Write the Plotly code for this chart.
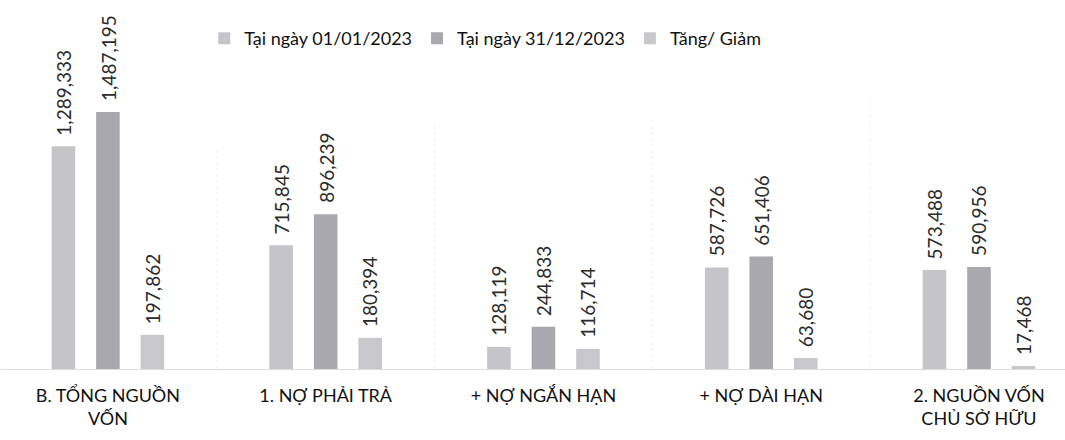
import plotly.graph_objects as go

categories = ["B. TỔNG NGUỒN<br>VỐN", "1. NỢ PHẢI TRẢ", "+ NỢ NGẮN HẠN", "+ NỢ DÀI HẠN", "2. NGUỒN VỐN<br>CHỦ SỞ HỮU"]
series_names = ["Tại ngày 01/01/2023", "Tại ngày 31/12/2023", "Tăng/ Giảm"]
v_start = [1289333, 715845, 128119, 587726, 573488]
v_end = [1487195, 896239, 244833, 651406, 590956]
v_change = [197862, 180394, 116714, 63680, 17468]
colors = ["#c4c4c9", "#a8a8ae", "#c8c8cc"]

SLOT_PX = 44.5          # distance between bar centres inside a group
shifts = [-SLOT_PX, 0, SLOT_PX]

fig = go.Figure()
for name, vals, col in zip(series_names, [v_start, v_end, v_change], colors):
    fig.add_trace(go.Bar(
        x=categories, y=vals, name=name,
        marker=dict(color=col, line=dict(width=0)),
        cliponaxis=False, hoverinfo="skip",
    ))

# value labels (rotated, above bars)
for vals, dx in zip([v_start, v_end, v_change], shifts):
    for c, v in zip(categories, vals):
        fig.add_annotation(
            x=c, y=v, xref="x", yref="y", text=f"{v:,}", showarrow=False,
            textangle=-90, xanchor="center", yanchor="bottom",
            xshift=dx, yshift=9,
            font=dict(family="Lato, Open Sans, sans-serif", size=19, color="#2b2b2b"),
        )

fig.update_layout(
    width=1065, height=440,
    margin=dict(l=1, r=0, t=20, b=71),
    paper_bgcolor="white", plot_bgcolor="white",
    barmode="group", bargap=0.387, bargroupgap=0.47,
    showlegend=True,
    legend=dict(orientation="h", x=0.191, y=1.0, xanchor="left", yanchor="top",
                font=dict(family="Lato, Open Sans, sans-serif", size=18, color="#111"),
                itemwidth=30, traceorder="normal", bgcolor="rgba(0,0,0,0)"),
    xaxis=dict(range=[-0.491, 4.395], showgrid=False, showline=True, linecolor="#dcdcdc",
               linewidth=1, ticks="", ticklabelstandoff=10,
               tickfont=dict(family="Lato, Open Sans, sans-serif", size=18, color="#111")),
    yaxis=dict(range=[0, 2020000], showgrid=False, showticklabels=False, zeroline=False, showline=False),
)

# faint separators between category groups
for i, top in enumerate([0.63, 0.7, 0.72, 0.78]):
    fig.add_shape(type="line", xref="x", yref="paper", x0=i + 0.5, x1=i + 0.5, y0=0, y1=top,
                  line=dict(color="#f0f0f0", width=1, dash="dot"))

fig.write_html("out.html", config={"displayModeBar": False},
               post_script="document.body.style.margin='0px';")
